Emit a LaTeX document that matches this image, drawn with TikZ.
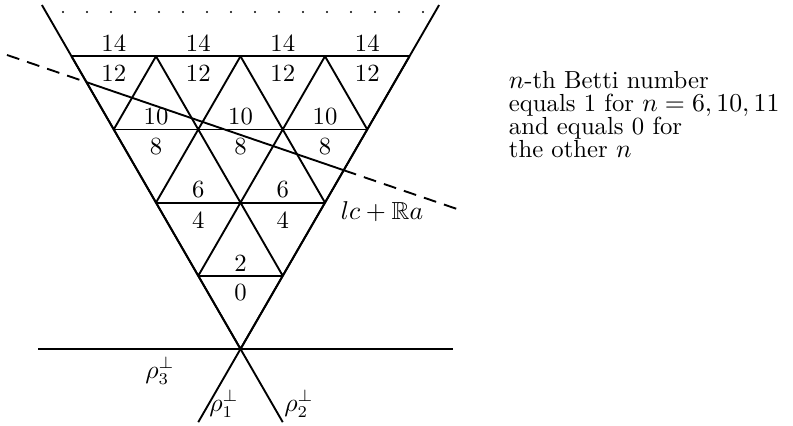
\documentclass[tikz,border=0pt]{standalone}
\usepackage{amsmath}
\usepackage{amssymb}
\usetikzlibrary{calc}

\begin{document}
\begin{tikzpicture}[x=0.425pt, y=0.425pt, line width=0.8pt,
  font=\fontsize{10.5}{9.8}\selectfont,
  num/.style={inner sep=1.5pt},
  cut/.style={dash pattern=on 5.5pt off 3.5pt}]
\useasboundingbox (0,0) rectangle (793,426);
\def\tri{84.5} \def\rowh{73.18}
% cone and the line rho_3
\coordinate (o) at (240.5,77);
\coordinate (ltop) at ($(o)+(-198.6,344)$);
\coordinate (rtop) at ($(o)+(198.6,344)$);
\coordinate (lbot) at ($(o)+(-42.25,-73.18)$);
\coordinate (rbot) at ($(o)+(42.25,-73.18)$);
\coordinate (bl) at (38,77); \coordinate (br) at (453,77);
\draw (ltop) -- (rbot); \draw (rtop) -- (lbot);
\draw (bl) -- (br);
% triangles
\foreach \k in {1,...,4}
  \draw ($(o)+({-\k*\tri/2},{\k*\rowh})$) -- ($(o)+({\k*\tri/2},{\k*\rowh})$);
\foreach \k in {0,...,3}
  \foreach \j in {0,...,\k}
    \draw ($(o)+({(\j-\k/2)*\tri},{\k*\rowh})$) -- ++({-\tri/2},\rowh)
          ($(o)+({(\j-\k/2)*\tri},{\k*\rowh})$) -- ++({\tri/2},\rowh);
% numbers
\foreach \k in {1,...,4} {
  \pgfmathtruncatemacro\lo{4*(\k-1)}
  \pgfmathtruncatemacro\hi{4*(\k-1)+2}
  \foreach \j in {1,...,\k} {
    \node[num, anchor=south] (u\k\j) at ($(o)+({(\j-0.5-\k/2)*\tri},{\k*\rowh})$) {\hi};
    \node[num, anchor=north, yshift=-1.8pt] (d\k\j) at ($(o)+({(\j-0.5-\k/2)*\tri},{\k*\rowh})$) {\lo};
  }
}
% dots
\foreach \i in {0,...,15}
  \fill (63+24*\i,414) circle (0.5pt);
% lc + Ra
\coordinate (d1) at (7,371); \coordinate (d2) at (457,217);
\coordinate (s1) at ($(d1)!0.1767!(d2)$); \coordinate (s2) at ($(d1)!0.7484!(d2)$);
\draw[cut] (d1) -- (s1); \draw (s1) -- (s2); \draw[cut] (s2) -- (d2);
\node (lca) at (382,214) {$lc+\mathbb{R}a$};
% labels of the walls
\node (r3) at (160,55) {$\rho_3^\perp$};
\node (r1) at (224,22) {$\rho_1^\perp$};
\node (r2) at (299,22) {$\rho_2^\perp$};
\node[anchor=north west, align=left, inner sep=0pt] (txt) at (508,356)
  {$n$-th Betti number\\ equals 1 for $n=6,10,11$\\ and equals 0 for\\ the other $n$};
\end{tikzpicture}
\end{document}
